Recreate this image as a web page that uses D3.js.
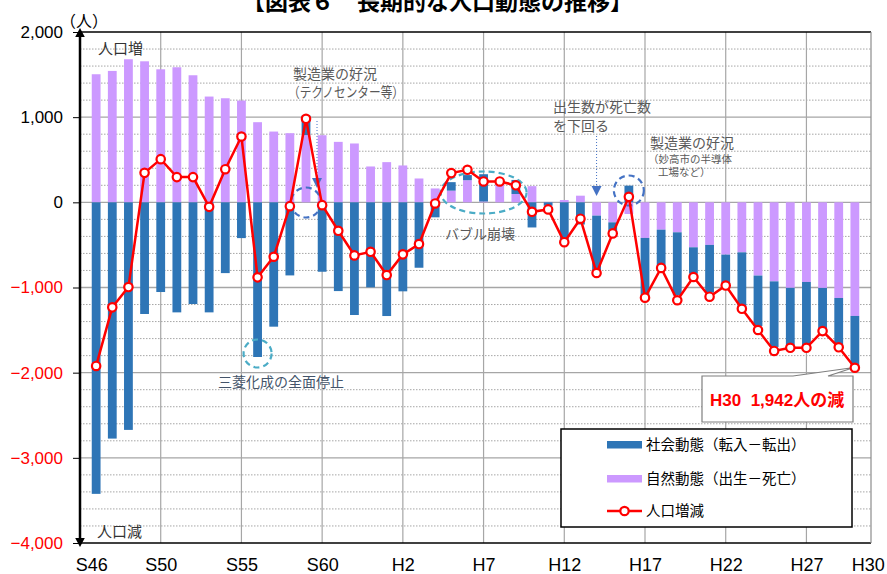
<!DOCTYPE html>
<html>
<head>
<meta charset="utf-8">
<script src="https://d3js.org/d3.v7.min.js"></script>
<style>
  body { margin: 0; background: #fff; }
  svg text { font-family: "Liberation Sans", Arial, "Noto Sans CJK JP", sans-serif; }
</style>
</head>
<body>
<div id="chart"></div>
<script>
// S46 (1971) - H30 (2018)
const years = d3.range(1971, 2019);
// 自然動態（出生－死亡）
const natural = [1504, 1543, 1680, 1656, 1562, 1586, 1492, 1242, 1222, 1195,
  941, 831, 812, 790, 788, 710, 691, 421, 472, 433,
  280, 163, 137, 260, 10, 220, 98, 190, 5, 27,
  78, -156, -235, -137, -418, -321, -352, -528, -500, -614,
  -587, -860, -928, -1004, -935, -1005, -1123, -1334];
// 社会動態（転入－転出）
const social = [-3423, -2774, -2672, -1311, -1053, -1292, -1194, -1292, -831, -420,
  -1816, -1460, -858, 230, -815, -1042, -1323, -998, -1335, -1045,
  -768, -176, 100, 60, 320, 10, 165, -295, -40, -440,
  -260, -665, -140, 196, -690, -440, -740, -310, -560, -345,
  -646, -592, -770, -672, -740, -485, -555, -606];
// 人口増減
const total = [-1921, -1233, -995, 346, 507, 296, 296, -53, 389, 773,
  -881, -639, -45, 980, -33, -334, -623, -581, -854, -611,
  -490, -13, 343, 382, 245, 245, 200, -111, -83, -468,
  -192, -830, -365, 65, -1120, -770, -1150, -877, -1108, -977,
  -1250, -1499, -1745, -1708, -1708, -1512, -1702, -1942];

const tickYears = [1971, 1975, 1980, 1985, 1990, 1995, 2000, 2005, 2010, 2015, 2018];
const tickLabels = ["S46", "S50", "S55", "S60", "H2", "H7", "H12", "H17", "H22", "H27", "H30"];
const yTicks = [2000, 1000, 0, -1000, -2000, -3000, -4000];
const gridYears = [1975, 1980, 1985, 1990, 1995, 2000, 2005, 2010, 2015];

const W = 887, H = 574;
const pL = 80, pR = 871, pT = 32, pB = 543;

const svg = d3.select("#chart").append("svg")
  .attr("width", W).attr("height", H);

const x = d3.scaleLinear().domain([1970, 2019]).range([pL, pR]);
const y = d3.scaleLinear().domain([-4000, 2000]).range([pB, pT]);

// title (cut at the top edge, as in the source image)
svg.append("text")
  .attr("x", 242).attr("y", 10)
  .attr("font-size", 23).attr("font-weight", "bold")
  .attr("fill", "#000")
  .text("【図表６　長期的な人口動態の推移】");

// minor dotted gridlines
svg.append("g").selectAll("line")
  .data(d3.range(-3800, 2000, 200).filter(v => v % 1000 !== 0))
  .join("line")
    .attr("x1", pL).attr("x2", pR)
    .attr("y1", d => y(d)).attr("y2", d => y(d))
    .attr("stroke", "#a6a6a6").attr("stroke-dasharray", "1.5,1.5");

// major gridlines
svg.append("g").selectAll("line")
  .data([1000, 0, -1000, -2000, -3000])
  .join("line")
    .attr("x1", pL).attr("x2", pR)
    .attr("y1", d => y(d)).attr("y2", d => y(d))
    .attr("stroke", "#a6a6a6").attr("stroke-width", 1.3);

svg.append("g").selectAll("line")
  .data(gridYears)
  .join("line")
    .attr("x1", d => x(d)).attr("x2", d => x(d))
    .attr("y1", pT).attr("y2", pB)
    .attr("stroke", "#a6a6a6").attr("stroke-width", 1.2);

// stacked bars
const rows = years.map((yr, i) => ({ year: yr, natural: natural[i], social: social[i] }));
const series = d3.stack()
  .keys(["natural", "social"])
  .offset(d3.stackOffsetDiverging)(rows);
const colors = { natural: "#cc99ff", social: "#2e75b6" };
const barW = 8.8;

svg.append("g").selectAll("g")
  .data(series)
  .join("g")
    .attr("fill", d => colors[d.key])
  .selectAll("rect")
  .data(d => d)
  .join("rect")
    .attr("x", d => x(d.data.year) - barW / 2)
    .attr("width", barW)
    .attr("y", d => y(Math.max(d[0], d[1])))
    .attr("height", d => Math.abs(y(d[0]) - y(d[1])));

// frame
svg.append("line").attr("x1", pL).attr("x2", pR).attr("y1", pT).attr("y2", pT)
  .attr("stroke", "#000").attr("stroke-width", 1.5);
svg.append("line").attr("x1", pL).attr("x2", pR).attr("y1", pB).attr("y2", pB)
  .attr("stroke", "#000").attr("stroke-width", 1.5);
svg.append("line").attr("x1", pR).attr("x2", pR).attr("y1", pT).attr("y2", pB)
  .attr("stroke", "#8c8c8c").attr("stroke-width", 1.2);

// y axis
const yAxis = svg.append("g")
  .attr("transform", `translate(${pL},0)`)
  .call(d3.axisLeft(y).tickValues(yTicks).tickSize(7).tickPadding(10).tickFormat(d3.format(",")));
yAxis.select(".domain").remove();
yAxis.selectAll(".tick line").attr("stroke", "#000");
yAxis.selectAll(".tick text")
  .attr("font-size", 17)
  .attr("font-family", "Liberation Sans, Arial, sans-serif")
  .attr("fill", d => d < 0 ? "#ff0000" : "#000");

svg.append("line").attr("x1", pL).attr("x2", pL).attr("y1", 36).attr("y2", 539)
  .attr("stroke", "#000").attr("stroke-width", 2.5);
svg.append("path").attr("d", `M${pL},28 L${pL - 4.8},37 L${pL + 4.8},37 Z`).attr("fill", "#000");
svg.append("path").attr("d", `M${pL},547 L${pL - 4.8},538 L${pL + 4.8},538 Z`).attr("fill", "#000");

// x axis
const xAxis = svg.append("g")
  .attr("transform", `translate(0,${pB})`)
  .call(d3.axisBottom(x).tickValues(tickYears).tickSize(0).tickFormat((d, i) => tickLabels[i]));
xAxis.select(".domain").remove();
xAxis.selectAll(".tick text")
  .attr("font-size", 18)
  .attr("font-family", "Liberation Sans, Arial, sans-serif")
  .attr("fill", "#000")
  .attr("y", 22).attr("dy", "0.35em")
  .attr("dx", d => d === 1971 ? -5 : d === 2018 ? 13 : 0);

// unit and direction labels
svg.append("text").attr("x", 60).attr("y", 21).attr("dominant-baseline", "central")
  .attr("font-size", 16).attr("fill", "#000").text("（人）");
svg.append("text").attr("x", 98).attr("y", 48).attr("dominant-baseline", "central")
  .attr("font-size", 15).attr("fill", "#333").text("人口増");
svg.append("text").attr("x", 97).attr("y", 531).attr("dominant-baseline", "central")
  .attr("font-size", 15).attr("fill", "#333").text("人口減");

// annotations: shapes
const ann = svg.append("g");
function dashedCircle(cx, cy, r, color) {
  ann.append("circle").attr("cx", cx).attr("cy", cy).attr("r", r)
    .attr("fill", "none").attr("stroke", color).attr("stroke-width", 2.2)
    .attr("stroke-dasharray", "6,4");
}
function dottedArrow(xp, y1, y2) {
  ann.append("line").attr("x1", xp).attr("x2", xp).attr("y1", y1).attr("y2", y2 - 9)
    .attr("stroke", "#4472c4").attr("stroke-dasharray", "1,2");
  ann.append("path").attr("d", `M${xp},${y2} L${xp - 5},${y2 - 10} L${xp + 5},${y2 - 10} Z`)
    .attr("fill", "#4472c4");
}
dashedCircle(x(1984), 202.5, 15, "#4472c4");
dashedCircle(x(1981), 353.5, 14, "#4bacc6");
dashedCircle(x(2004), 190.5, 15, "#4472c4");
ann.append("ellipse").attr("cx", x(1995)).attr("cy", 192.5).attr("rx", 43).attr("ry", 21)
  .attr("fill", "none").attr("stroke", "#4bacc6").attr("stroke-width", 2.2)
  .attr("stroke-dasharray", "6,4");
dottedArrow(317, 121, 188);
dottedArrow(x(2002), 136, 196);

// callout box
svg.append("path")
  .attr("d", "M702,376 H793 L854,367.5 L828,376 H853 V422 H702 Z")
  .attr("fill", "#fff").attr("stroke", "#7f7f7f").attr("stroke-width", 1.2);

// line + markers
const pts = years.map((yr, i) => ({ year: yr, total: total[i] }));
svg.append("path")
  .datum(pts)
  .attr("fill", "none").attr("stroke", "#ff0000").attr("stroke-width", 2.5)
  .attr("d", d3.line().x(d => x(d.year)).y(d => y(d.total)));
svg.append("g").selectAll("circle")
  .data(pts)
  .join("circle")
    .attr("cx", d => x(d.year)).attr("cy", d => y(d.total)).attr("r", 4.2)
    .attr("fill", "#fff").attr("stroke", "#ff0000").attr("stroke-width", 2.2);

// annotation texts
function note(tx, ty, s, size, color, len) {
  const t = svg.append("text").attr("x", tx).attr("y", ty)
    .attr("dominant-baseline", "central")
    .attr("font-size", size).attr("fill", color).text(s);
  if (len) t.attr("textLength", len).attr("lengthAdjust", "spacingAndGlyphs");
}
note(293, 74, "製造業の好況", 14, "#595959");
note(288, 92, "（テクノセンター等）", 14, "#595959", 116);
note(218, 382, "三菱化成の全面停止", 14, "#44546a");
note(445, 234, "バブル崩壊", 14, "#595959");
note(553, 107, "出生数が死亡数", 14, "#595959");
note(553, 126, "を下回る", 14, "#595959");
note(650, 142.5, "製造業の好況", 14, "#595959");
note(648, 159, "（妙高市の半導体", 10.5, "#595959");
note(658, 172, "工場など）", 10.5, "#595959");

svg.append("text").attr("x", 710).attr("y", 400).attr("dominant-baseline", "central")
  .attr("font-size", 17).attr("font-weight", "bold").attr("fill", "#ff0000")
  .style("white-space", "pre")
  .text("H30  1,942人の減");

// legend
const lg = svg.append("g");
lg.append("rect").attr("x", 561).attr("y", 429).attr("width", 291).attr("height", 98)
  .attr("fill", "#fff").attr("stroke", "#000").attr("stroke-width", 1.5);
lg.append("rect").attr("x", 607).attr("y", 441).attr("width", 35).attr("height", 7.5).attr("fill", colors.social);
lg.append("rect").attr("x", 607).attr("y", 475).attr("width", 35).attr("height", 7.5).attr("fill", colors.natural);
lg.append("line").attr("x1", 607).attr("x2", 642).attr("y1", 511).attr("y2", 511)
  .attr("stroke", "#ff0000").attr("stroke-width", 2.5);
lg.append("circle").attr("cx", 624.5).attr("cy", 511).attr("r", 4.2)
  .attr("fill", "#fff").attr("stroke", "#ff0000").attr("stroke-width", 2.2);
const legendLabels = ["社会動態（転入－転出）", "自然動態（出生－死亡）", "人口増減"];
[445, 479, 511].forEach((ly, i) => {
  lg.append("text").attr("x", 646).attr("y", ly).attr("dominant-baseline", "central")
    .attr("font-size", 14.5).attr("fill", "#000").text(legendLabels[i]);
});
</script>
</body>
</html>
